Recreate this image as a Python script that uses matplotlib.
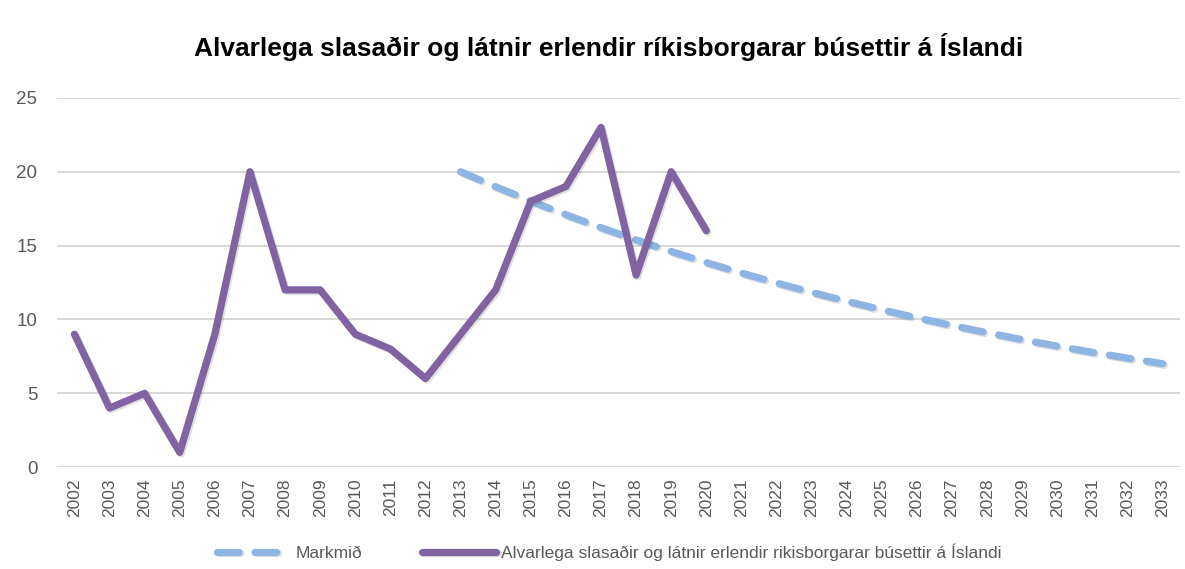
import matplotlib
matplotlib.use("Agg")
import matplotlib.pyplot as plt
import matplotlib.patheffects as pe

years = [str(y) for y in range(2002, 2034)]

actual_years = [str(y) for y in range(2002, 2021)]
actual_values = [9, 4, 5, 1, 9, 20, 12, 12, 9, 8, 6, 9, 12, 18, 19, 23, 13, 20, 16]

target_years = [str(y) for y in range(2013, 2034)]
target_values = [20.0, 18.98, 18.01, 17.09, 16.21, 15.38, 14.6, 13.85, 13.14, 12.47,
                 11.83, 11.23, 10.65, 10.11, 9.59, 9.1, 8.63, 8.19, 7.77, 7.38, 7.0]

title = "Alvarlega slasaðir og látnir erlendir ríkisborgarar búsettir á Íslandi"
label_target = "Markmið"
label_actual = "Alvarlega slasaðir og látnir erlendir rikisborgarar búsettir á Íslandi"

y_ticks = [0, 5, 10, 15, 20, 25]

plt.rcParams["font.family"] = ["Liberation Sans", "DejaVu Sans"]

purple = "#8064A2"
blue = "#8EB4E3"
grey_text = "#595959"

fig = plt.figure(figsize=(11.85, 5.69), dpi=100)
ax = fig.add_axes([0.048, 0.179, 0.948, 0.649])

idx = {y: i for i, y in enumerate(years)}
shadow = [pe.SimpleLineShadow(offset=(1.2, -1.2), alpha=0.12, shadow_color="#000000"), pe.Normal()]

ax.plot([idx[y] for y in target_years], target_values, color=blue, lw=5.2,
        linestyle=(0, (3.0, 2.2)), dash_capstyle="round", solid_capstyle="round",
        label=label_target, path_effects=shadow, zorder=3)
ax.plot([idx[y] for y in actual_years], actual_values, color=purple, lw=5.2,
        solid_capstyle="round", solid_joinstyle="round",
        label=label_actual, path_effects=shadow, zorder=4)

ax.set_xlim(-0.5, len(years) - 0.5)
ax.set_ylim(0, 25)
ax.set_yticks(y_ticks)
ax.set_xticks(range(len(years)))
ax.set_xticklabels(years, rotation=90)
ax.tick_params(axis="x", length=0, labelsize=12.5, colors=grey_text, pad=8)
ax.tick_params(axis="y", length=0, labelsize=13.5, colors=grey_text, pad=14)
for s in ax.spines.values():
    s.set_visible(False)
ax.grid(axis="y", color="#D9D9D9", lw=1.5)
ax.set_axisbelow(True)

fig.text(0.514, 0.917, title, ha="center", va="center", fontsize=19,
         fontweight="bold", color="#000000")

leg = fig.legend(loc="center", bbox_to_anchor=(0.514, 0.03), ncol=2, frameon=False,
                 fontsize=12.5, handlelength=4.3, columnspacing=3.4, handletextpad=0.25,
                 labelcolor=grey_text)

fig.savefig("out.png", dpi=100, facecolor="white")
